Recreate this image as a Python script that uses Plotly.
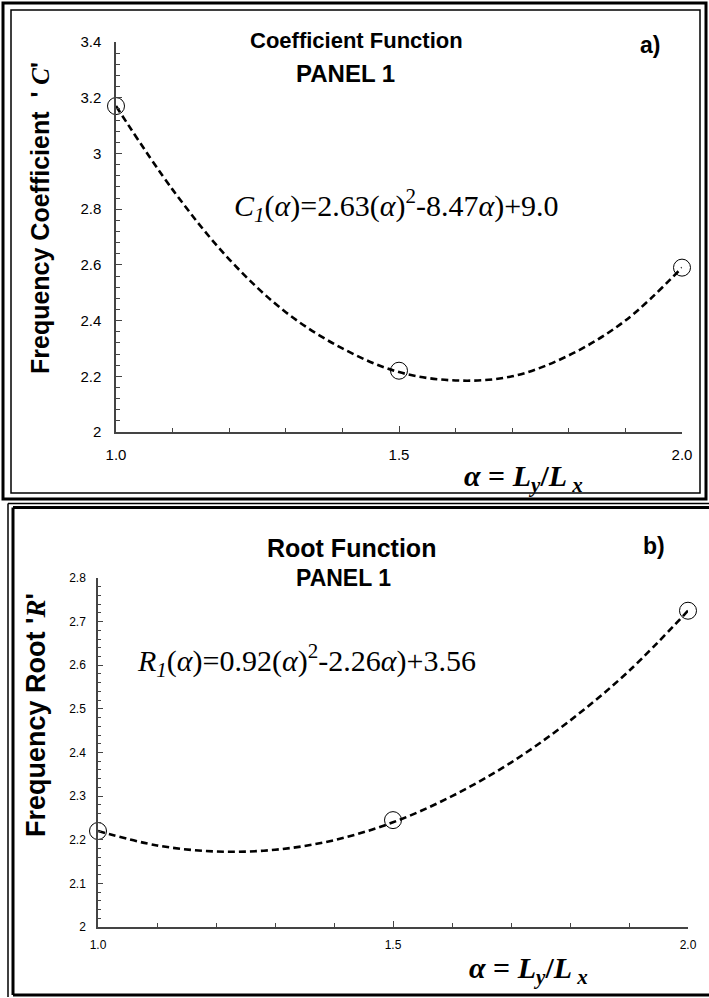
import plotly.graph_objects as go

W, H = 709, 998

# ---- data ----
alpha_pts = [1.0, 1.5, 2.0]
coef_pts = [3.17, 2.22, 2.59]
root_pts = [2.22, 2.245, 2.725]

alpha_curve = [1.0, 1.1, 1.2, 1.3, 1.4, 1.5, 1.6, 1.7, 1.8, 1.9, 2.0]
coef_curve = [3.17, 2.87, 2.62, 2.43, 2.30, 2.215, 2.185, 2.20, 2.275, 2.40, 2.59]
root_curve = [2.22, 2.187, 2.173, 2.177, 2.199, 2.24, 2.30, 2.377, 2.473, 2.587, 2.725]

x_tickvals = [1.0, 1.5, 2.0]
x_ticktext = ["1.0", "1.5", "2.0"]
top_y_tickvals = [2, 2.2, 2.4, 2.6, 2.8, 3, 3.2, 3.4]
top_y_ticktext = ["2", "2.2", "2.4", "2.6", "2.8", "3", "3.2", "3.4"]
bot_y_tickvals = [2, 2.1, 2.2, 2.3, 2.4, 2.5, 2.6, 2.7, 2.8]
bot_y_ticktext = ["2", "2.1", "2.2", "2.3", "2.4", "2.5", "2.6", "2.7", "2.8"]


def px(x):
    return x / W


def py(y):
    return 1 - y / H


fig = go.Figure()

# top panel
fig.add_trace(go.Scatter(x=alpha_curve, y=coef_curve, mode="lines",
                         line=dict(color="black", width=2.6, dash="7px,4px", shape="spline"),
                         xaxis="x", yaxis="y", showlegend=False, hoverinfo="skip"))
fig.add_trace(go.Scatter(x=alpha_pts, y=coef_pts, mode="markers",
                         marker=dict(symbol="circle-open", size=17, color="black", line=dict(width=1)),
                         xaxis="x", yaxis="y", showlegend=False, cliponaxis=False))
# bottom panel
fig.add_trace(go.Scatter(x=alpha_curve, y=root_curve, mode="lines",
                         line=dict(color="black", width=2.6, dash="7px,4px", shape="spline"),
                         xaxis="x2", yaxis="y2", showlegend=False, hoverinfo="skip"))
fig.add_trace(go.Scatter(x=alpha_pts, y=root_pts, mode="markers",
                         marker=dict(symbol="circle-open", size=17, color="black", line=dict(width=1)),
                         xaxis="x2", yaxis="y2", showlegend=False, cliponaxis=False))

axis_common = dict(showgrid=False, zeroline=False, showline=True, linecolor="#444", linewidth=1.5,
                   ticks="inside", tickcolor="#444", automargin=False, color="black")

fig.update_layout(
    width=W, height=H,
    margin=dict(l=0, r=0, t=0, b=0),
    paper_bgcolor="white", plot_bgcolor="white",
    font=dict(family="Liberation Sans, Arial, sans-serif", color="black"),
    xaxis=dict(domain=[px(116), px(682)], range=[1, 2], anchor="y",
               tickvals=x_tickvals, ticktext=x_ticktext, ticklen=6, ticklabelstandoff=8,
               minor=dict(dtick=0.1, ticks="inside", ticklen=4, tickcolor="#444"),
               tickfont=dict(size=15), **axis_common),
    yaxis=dict(domain=[py(432), py(42)], range=[2, 3.4], anchor="x",
               tickvals=top_y_tickvals, ticktext=top_y_ticktext, ticklen=6, ticklabelstandoff=10,
               minor=dict(dtick=0.04, tick0=2, ticks="inside", ticklen=4, tickcolor="#444"),
               tickfont=dict(size=15), **axis_common),
    xaxis2=dict(domain=[px(98), px(688)], range=[1, 2], anchor="y2",
                tickvals=x_tickvals, ticktext=x_ticktext, ticklen=6, ticklabelstandoff=6,
                minor=dict(dtick=0.1, ticks="inside", ticklen=4, tickcolor="#444"),
                tickfont=dict(size=12), **axis_common),
    yaxis2=dict(domain=[py(927), py(578)], range=[2, 2.8], anchor="x2",
                tickvals=bot_y_tickvals, ticktext=bot_y_ticktext, ticklen=5, ticklabelstandoff=8,
                minor=dict(dtick=0.02, tick0=2, ticks="inside", ticklen=3, tickcolor="#444"),
                tickfont=dict(size=12), **axis_common),
)

ann = []


def add_text(x, y, text, size, family="Liberation Sans, Arial, sans-serif", xanchor="center", angle=0):
    ann.append(dict(x=px(x), y=py(y), xref="paper", yref="paper", text=text, showarrow=False,
                    font=dict(size=size, family=family, color="black"), xanchor=xanchor, yanchor="middle",
                    textangle=angle))


serif = "Liberation Serif, Times New Roman, serif"
# top panel texts
add_text(356, 40, "<b>Coefficient Function</b>", 22)
add_text(345, 73, "<b>PANEL 1</b>", 24)
add_text(650, 45, "<b>a)</b>", 23)
add_text(232, 205, "<i>C<sub>1</sub></i>(<i>α</i>)=2.63(<i>α</i>)<sup>2</sup>-8.47<i>α</i>)+9.0", 30, serif, xanchor="left")
add_text(40, 218, "<b>Frequency Coefficient  ' </b><b><i><span style='font-family:Liberation Serif'>C</span></i></b><b>'</b>", 25, angle=-90)
add_text(523, 478, "<b><i>α</i> = <i>L<sub>y</sub></i>/<i>L<sub> x</sub></i></b>", 30, serif)

# bottom panel texts
add_text(351, 548, "<b>Root Function</b>", 25)
add_text(343, 578, "<b>PANEL 1</b>", 23)
add_text(654, 546, "<b>b)</b>", 23)
add_text(135, 660, "<i>R<sub>1</sub></i>(<i>α</i>)=0.92(<i>α</i>)<sup>2</sup>-2.26<i>α</i>)+3.56", 30, serif, xanchor="left")
add_text(36, 715, "<b>Frequency Root '</b><b><i><span style='font-family:Liberation Serif'>R</span></i></b><b>'</b>", 27, angle=-90)
add_text(528, 970, "<b><i>α</i> = <i>L<sub>y</sub></i>/<i>L<sub> x</sub></i></b>", 30, serif)

fig.update_layout(annotations=ann)

shapes = []


def rect(x0, y0, x1, y1, w):
    shapes.append(dict(type="rect", xref="paper", yref="paper", x0=px(x0), y0=py(y0), x1=px(x1), y1=py(y1),
                       line=dict(color="black", width=w), fillcolor="rgba(0,0,0,0)", layer="above"))


def line(x0, y0, x1, y1, w):
    shapes.append(dict(type="line", xref="paper", yref="paper", x0=px(x0), y0=py(y0), x1=px(x1), y1=py(y1),
                       line=dict(color="black", width=w), layer="above"))


# top panel double frame
rect(3, 3, 706, 499, 3)
rect(11, 10, 700, 493, 1.5)
# bottom panel double frame (right side off-page)
line(8, 503.5, 709, 503.5, 1.5)
line(13, 507.5, 709, 507.5, 3)
line(8, 503.5, 8, 997, 1.5)
line(13, 507.5, 13, 995, 3)
line(13, 995, 709, 995, 3)

fig.update_layout(shapes=shapes)

fig.write_html("out.html")
